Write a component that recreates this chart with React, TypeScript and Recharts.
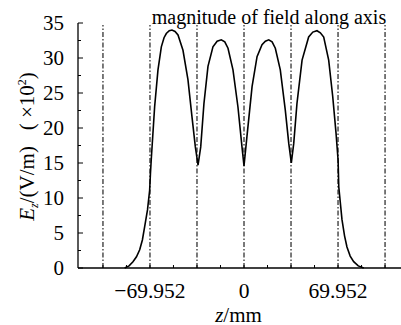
import React from "react";
import {
  LineChart,
  Line,
  XAxis,
  YAxis,
  ReferenceLine,
  Label,
} from "recharts";

// z positions (mm) and field magnitude (x10^2 V/m)
const zValues = [
  -88.8, -85.5, -82.6, -80.0, -77.6, -75.6, -73.9, -71.8, -70.2, -69.6, -69.0,
  -66.5, -64.0, -61.5, -59.5, -57.8, -55.6, -53.6, -51.3, -49.1, -45.4, -41.7,
  -38.7, -36.2, -34.2, -32.2, -29.8, -26.8, -23.1, -20.0, -16.9, -14.3, -11.9,
  -8.2, -4.5, -1.5, 0, 2.2, 6.0, 9.7, 13.4, 15.9, 18.4, 20.9, 23.3, 27.0, 30.7,
  33.3, 35.2, 37.0, 39.4, 43.2, 48.1, 51.2, 54.3, 56.8, 59.3, 63.0, 66.0, 68.5,
  70.0, 70.5, 72.9, 74.8, 76.6, 79.0, 81.6, 85.0, 89.1,
];
const eValues = [
  0, 0.3, 0.9, 1.6, 2.6, 4.0, 5.9, 8.3, 11.1, 13.5, 15.5, 23.0, 28.3, 31.6,
  32.9, 33.5, 33.9, 34.0, 33.8, 33.3, 31.1, 26.9, 21.6, 17.3, 14.7, 17.3, 23.5,
  28.8, 31.6, 32.4, 32.6, 32.3, 31.4, 28.3, 23.0, 17.3, 14.6, 18.8, 25.9, 30.2,
  31.9, 32.4, 32.6, 32.3, 31.4, 28.3, 22.6, 17.8, 15.0, 17.8, 23.5, 29.7, 33.0,
  33.7, 33.9, 33.6, 33.0, 29.7, 24.5, 19.2, 15.4, 11.6, 6.9, 4.6, 3.0, 1.7, 0.9,
  0.3, 0,
];

const xTicks = [
  -104.928, -87.44, -69.952, -52.464, -34.976, -17.488, 0, 17.488, 34.976,
  52.464, 69.952, 87.44, 104.928,
];
const xTickLabels = ["−69.952", "0", "69.952"];
const labeledXTicks = [-69.952, 0, 69.952];
const cellBoundaries = [-104.928, -69.952, -34.976, 0, 34.976, 69.952, 104.928];
const yTicks = [0, 2.5, 5, 7.5, 10, 12.5, 15, 17.5, 20, 22.5, 25, 27.5, 30, 32.5, 35];

const data = zValues.map((z, i) => ({ z, e: eValues[i] }));

const FONT = "'Liberation Serif', 'Times New Roman', serif";

function XTick(props: any) {
  const { x, y, payload } = props;
  const idx = labeledXTicks.indexOf(payload.value);
  return (
    <g>
      <line x1={x} x2={x} y1={y} y2={y - 3} stroke="#000" strokeWidth={1} />
      {idx >= 0 && (
        <text
          x={x}
          y={y + 30}
          textAnchor="middle"
          fontFamily={FONT}
          fontSize={21.5}
          fill="#000"
        >
          {xTickLabels[idx]}
        </text>
      )}
    </g>
  );
}

function YTick(props: any) {
  const { x, y, payload } = props;
  const major = payload.value % 5 === 0;
  return (
    <g>
      <line x1={x} x2={x + (major ? 5 : 3)} y1={y} y2={y} stroke="#000" strokeWidth={1} />
      {major && (
        <text
          x={x - 14}
          y={y + 7}
          textAnchor="end"
          fontFamily={FONT}
          fontSize={21}
          fill="#000"
        >
          {payload.value}
        </text>
      )}
    </g>
  );
}

function YTitle(props: any) {
  const { viewBox } = props;
  const cx = viewBox.x + 27;
  const cy = viewBox.y + viewBox.height / 2 + 1;
  return (
    <text
      x={cx}
      y={cy + 6.5}
      transform={`rotate(-90, ${cx}, ${cy})`}
      textAnchor="middle"
      fontFamily={FONT}
      fontSize={21}
      fill="#000"
      style={{ whiteSpace: "pre" }}
    >
      <tspan fontStyle="italic">E</tspan>
      <tspan fontStyle="italic" fontSize={12} dy={4}>z</tspan>
      <tspan dy={-4}>{"/(V/m)   ( ×10"}</tspan>
      <tspan fontSize={12} dy={-8}>2</tspan>
      <tspan dy={8}>)</tspan>
    </text>
  );
}

function XTitle(props: any) {
  const { viewBox } = props;
  const cx = viewBox.x + viewBox.width / 2;
  return (
    <text
      x={cx - 1}
      y={321.5}
      textAnchor="middle"
      fontFamily={FONT}
      fontSize={21}
      fill="#000"
    >
      <tspan fontStyle="italic">z</tspan>
      <tspan>/mm</tspan>
    </text>
  );
}

export default function App() {
  return (
    <div style={{ position: "absolute", left: 0, top: 0, background: "#fff" }}>
      <LineChart
        width={401}
        height={325}
        data={data}
        margin={{ top: 23, right: 0, bottom: 0, left: 0 }}
      >
        <XAxis
          dataKey="z"
          type="number"
          domain={[-123.5, 116.8]}
          ticks={xTicks}
          interval={0}
          allowDataOverflow
          tickSize={0}
          tickMargin={0}
          tickLine={false}
          tick={<XTick />}
          height={57}
          stroke="#000"
          strokeWidth={1.3}
        >
          <Label content={<XTitle />} />
        </XAxis>
        <YAxis
          type="number"
          domain={[0, 35]}
          ticks={yTicks}
          interval={0}
          tickSize={0}
          tickMargin={0}
          tickLine={false}
          tick={<YTick />}
          width={78}
          stroke="#000"
          strokeWidth={1.3}
        >
          <Label content={<YTitle />} />
        </YAxis>
        {cellBoundaries.map((b) => (
          <ReferenceLine
            key={b}
            segment={[
              { x: b, y: 0 },
              { x: b, y: 34.7 },
            ]}
            stroke="#222"
            strokeWidth={1.2}
            strokeDasharray="5 2 1.5 2"
          />
        ))}
        <Line
          type="linear"
          dataKey="e"
          stroke="#000"
          strokeWidth={1.6}
          dot={false}
          isAnimationActive={false}
        />
        <text
          x={269}
          y={24}
          textAnchor="middle"
          fontFamily={FONT}
          fontSize={20}
          fill="#000"
        >
          magnitude of field along axis
        </text>
      </LineChart>
    </div>
  );
}
